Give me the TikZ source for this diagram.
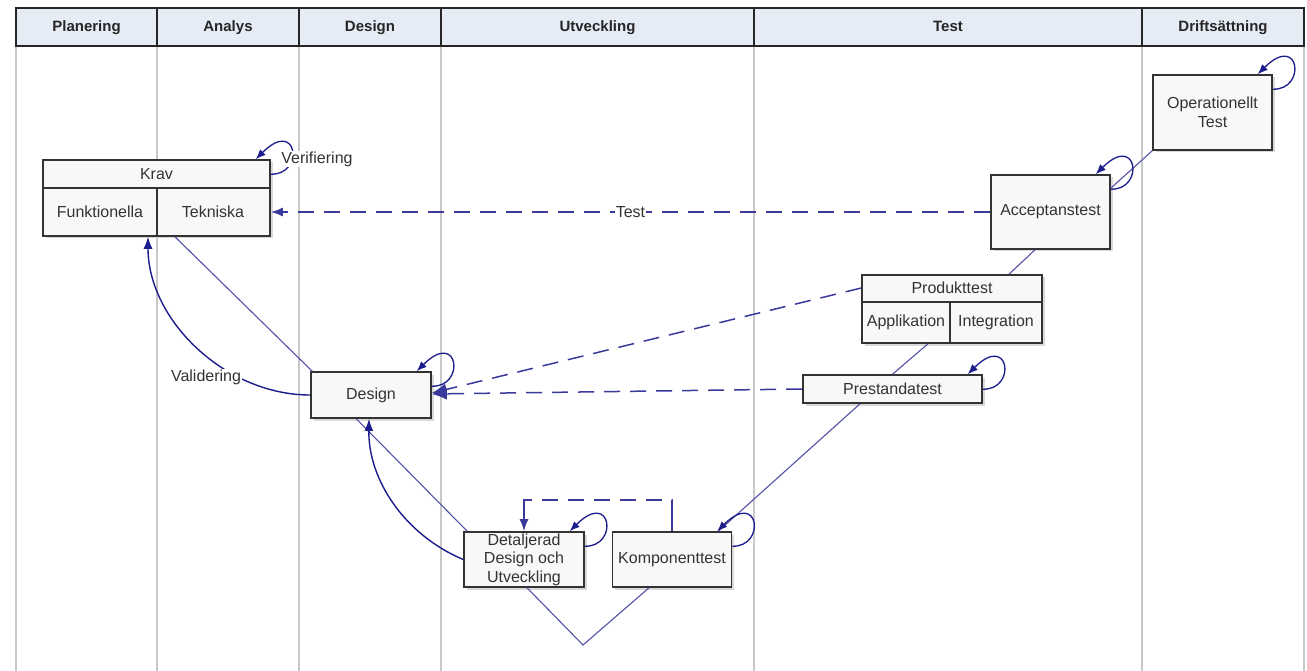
\documentclass[tikz,border=0pt]{standalone}
\usepackage{fontspec}
\setmainfont{Liberation Sans}
\usetikzlibrary{arrows.meta}
\definecolor{hdrfill}{HTML}{E6ECF6}
\definecolor{boxfill}{HTML}{F8F8F8}
\definecolor{boxline}{HTML}{333333}
\definecolor{lanegray}{HTML}{C8C8C8}
\definecolor{navy}{HTML}{1C1C8C}
\definecolor{vline}{HTML}{5252A8}
\definecolor{dashcol}{HTML}{3A3A9C}
\tikzset{
  lane/.style={draw=lanegray, line width=2pt},
  hdrbox/.style={draw=black!85, line width=1.4pt, fill=hdrfill},
  hdrtext/.style={font=\fontsize{15}{17}\selectfont\bfseries, text=black!85, anchor=base},
  box/.style={draw=boxline, line width=1.6pt, fill=boxfill, inner sep=0pt,
    font=\fontsize{16}{18.5}\selectfont, align=center, text=black!80},
  innerline/.style={draw=boxline, line width=1.6pt},
  txt/.style={font=\fontsize{16}{18.5}\selectfont, text=black!80, inner sep=1pt},
  lbl/.style={font=\fontsize{16}{18.5}\selectfont, text=black!80, fill=white, inner sep=1pt},
  loopar/.style={draw=navy, line width=1.3pt, -{Latex[length=10pt,width=8pt]}},
  solarr/.style={draw=navy, line width=1.4pt, -{Latex[length=12pt,width=9pt]}},
  thinv/.style={draw=vline, line width=1.1pt},
  dasharr/.style={draw=dashcol, line width=1.5pt, dash pattern=on 16pt off 10pt, -{Latex[length=12pt,width=9pt]}},
  fbdash/.style={draw=dashcol, line width=1.5pt, dash pattern=on 31pt off 10pt on 16pt off 10pt on 16pt off 10pt on 16pt off 10pt on 16pt off 10pt on 16pt off 10pt on 60pt, -{Latex[length=12pt,width=9pt]}},
  bigdash/.style={draw=dashcol, line width=1.5pt, dash pattern=on 16pt off 10pt, -{Latex[length=15pt,width=12pt]}},
  shadowbox/.style={fill=black!15, draw=none}
}
\newcommand{\myselfloop}[1]{\draw[loopar] ([yshift=-15pt]#1.north east) .. controls +(34,1) and +(42,-42) .. ([xshift=-15pt]#1.north east);}
\begin{document}
\begin{tikzpicture}[x=1pt,y=-1pt]
\useasboundingbox (0,0) rectangle (1307,671);
\fill[white] (0,0) rectangle (1307,671);
% lanes
\foreach \x in {16,157,299,441,754,1142,1304} \draw[lane] (\x,46) -- (\x,671);
% header
\draw[hdrbox] (16,8) rectangle (1304,46);
\foreach \x in {157,299,441,754,1142} \draw[draw=black!85, line width=1.4pt] (\x,8) -- (\x,46);
\node[hdrtext] (h1) at (86.5,32) {Planering};
\node[hdrtext] (h2) at (228,32) {Analys};
\node[hdrtext] (h3) at (370,32) {Design};
\node[hdrtext] (h4) at (597.5,32) {Utveckling};
\node[hdrtext] (h5) at (948,32) {Test};
\node[hdrtext] (h6) at (1223,32) {Driftsättning};

% shadows
\foreach \a/\b/\c/\d in {43/160/270/236, 1153/75/1272/150, 991/175/1110/249, 862/275/1042/343, 803/375/982/403, 311/372/431/418, 464/532/584/587, 612/532/731/587}
  \fill[shadowbox] (\a+2.5,\b+2.5) rectangle (\c+2.5,\d+2.5);

% boxes
\node[box, minimum width=227pt, minimum height=76pt] (krav) at (156.5,198) {};
\draw[innerline] (krav.west |- 0,188) -- (krav.east |- 0,188);
\draw[innerline] (157,188) -- (157,236);
\node[txt] (kravt) at (156.5,174) {Krav};
\node[txt] (funk) at (100,212) {Funktionella};
\node[txt] (tek) at (213,212) {Tekniska};

\node[box, minimum width=119pt, minimum height=75pt] (oper) at (1212.5,112.5) {Operationellt\\Test};
\node[box, minimum width=119pt, minimum height=74pt] (accept) at (1050.5,212) {Acceptanstest};

\node[box, minimum width=180pt, minimum height=68pt] (prod) at (952,309) {};
\draw[innerline] (prod.west |- 0,302) -- (prod.east |- 0,302);
\draw[innerline] (950,302) -- (950,343);
\node[txt] (prodt) at (952,288) {Produkttest};
\node[txt] (appl) at (906,322) {Applikation};
\node[txt] (integ) at (996,322) {Integration};

\node[box, minimum width=179pt, minimum height=28pt] (prest) at (892.5,389) {Prestandatest};
\node[box, minimum width=120pt, minimum height=46pt] (design) at (371,395) {Design};
\node[box, minimum width=120pt, minimum height=55pt] (detal) at (524,559.5) {Detaljerad\\Design och\\Utveckling};
\node[box, minimum width=119pt, minimum height=55pt] (komp) at (672,559.5) {Komponenttest};

% V lines
\draw[thinv] ([xshift=18.5pt]krav.south) -- ([xshift=2pt]design.north west);
\draw[thinv] ([xshift=46pt]design.south west) -- ([xshift=4pt]detal.north west);
\coordinate (vbot) at (583,645);
\draw[thinv] ([xshift=3pt]detal.south) -- (vbot) -- ([xshift=-23pt]komp.south);
\draw[thinv] ([xshift=-32.5pt]prest.south) -- ([xshift=-14pt]komp.north east);
\draw[thinv] ([xshift=-24pt]prod.south) -- (prest.north);
\draw[thinv] ([xshift=-15.5pt]accept.south) -- ([xshift=57pt]prod.north);
\draw[thinv] ([yshift=-14pt]accept.north east) -- (oper.south west);

% self loops
\myselfloop{krav}
\myselfloop{oper}
\myselfloop{accept}
\myselfloop{design}
\myselfloop{prest}
\myselfloop{detal}
\myselfloop{komp}
\node[lbl] (verif) at (317,159) {Verifiering};

% dashed arrows
\draw[dasharr] (accept.west) -- node[lbl] (testlbl) {Test} (tek -| krav.east);
\draw[bigdash] (prodt -| prod.west) -- ([yshift=2pt]design.east);
\draw[bigdash] (prest.west) -- ([yshift=1pt]design.east);
\draw[fbdash] (komp.north) -- ++(0,-31) -| (detal.north);

% solid curved arrows
\draw[solarr] (design.west) .. controls (225,395) and (148,320) .. ([xshift=-8.5pt]krav.south);
\node[lbl] (val) at (206,377) {Validering};
\draw[solarr] (detal.west) .. controls (405,535) and (368,480) .. ([xshift=-2pt]design.south);
\end{tikzpicture}
\end{document}
